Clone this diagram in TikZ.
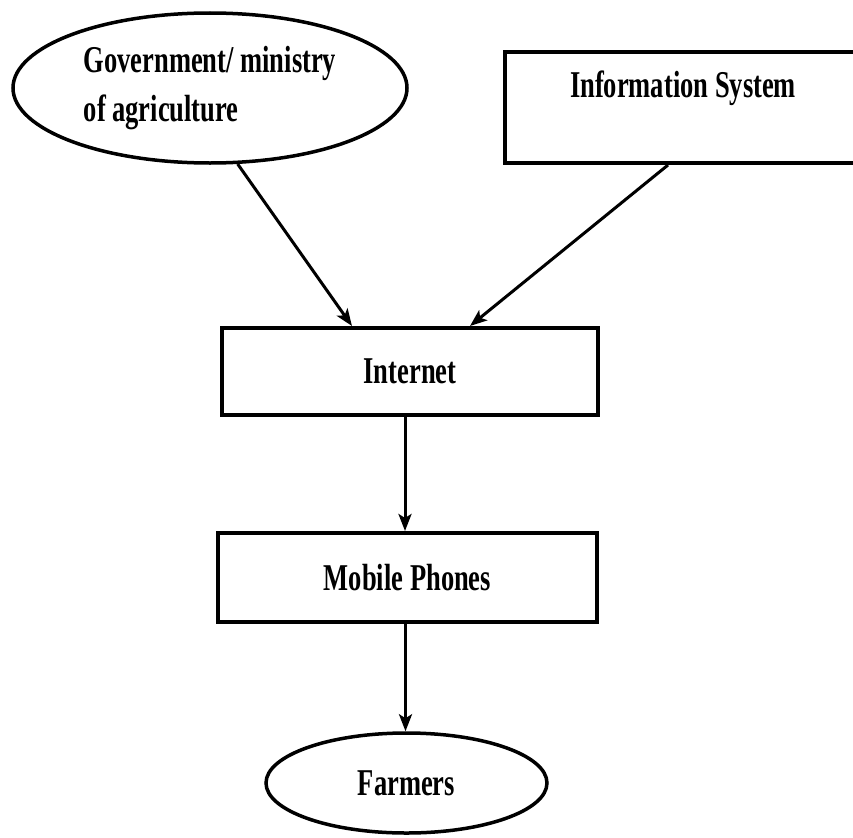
\documentclass[tikz,border=0pt]{standalone}
\usepackage{fontspec}
\newfontfamily\diagfont[FakeStretch=0.7]{Liberation Serif}
\usetikzlibrary{arrows.meta,shapes.geometric}

\begin{document}
\begin{tikzpicture}[x=1bp, y=-1bp,
  font=\diagfont\bfseries\fontsize{38}{45}\selectfont,
  box/.style={draw, line width=4bp, rectangle, inner sep=0pt},
  oval/.style={draw, line width=3.5bp, ellipse, inner sep=0pt},
  arr/.style={line width=3bp, -{Stealth[length=17bp, width=13bp, inset=4bp]}}]
  \useasboundingbox (0,0) rectangle (853,838);
  % sources on top
  \node[oval, minimum width=394bp, minimum height=150bp, align=left] (gov) at (210,88)
    {Government/ ministry\\[5bp]of agriculture};
  \node[box, minimum width=356bp, minimum height=111bp, text height=24bp, text depth=44bp] (info) at (683,107.5)
    {Information System};
  % chain down to the farmers
  \node[box, minimum width=376bp, minimum height=87bp] (inet) at (410,371.5) {Internet};
  \node[box, minimum width=379bp, minimum height=89bp] (mob) at (407.5,577.5) {Mobile Phones};
  \node[oval, minimum width=281bp, minimum height=100bp] (farm) at (406.5,783) {Farmers};
  \draw[arr] (gov.290) -- ([xshift=-58bp]inet.north);
  \draw[arr] ([xshift=-15bp]info.south) -- ([xshift=60bp]inet.north);
  \draw[arr] ([xshift=-5bp]inet.south) -- ([xshift=-5bp]inet.south |- mob.north);
  \draw[arr] ([xshift=-2bp]mob.south) -- ([xshift=-2bp]mob.south |- farm.north);
\end{tikzpicture}
\end{document}
